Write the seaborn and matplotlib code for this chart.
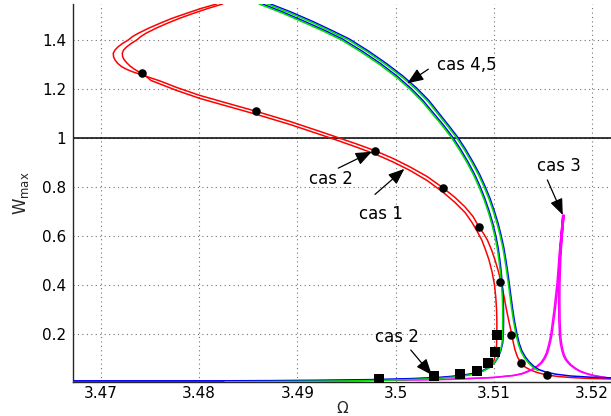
import numpy as np
import pandas as pd
import matplotlib
matplotlib.use("Agg")
import matplotlib.pyplot as plt
import matplotlib.transforms as mtransforms
import seaborn as sns

# ---------------- data ----------------
# cas 1 / cas 2 : red curves
red1_x = [3.48178, 3.48018, 3.47873, 3.47728, 3.47601, 3.47484, 3.47380, 3.47321, 3.47278,
          3.47219, 3.47176, 3.47143, 3.47125, 3.47128, 3.47143, 3.47171, 3.47211, 3.47260,
          3.47313, 3.47367, 3.47421, 3.47509, 3.47601, 3.47771, 3.48008, 3.48314, 3.48578,
          3.48925, 3.49230, 3.49416, 3.49597, 3.49790, 3.49974, 3.50147, 3.50320, 3.50480,
          3.50605, 3.50707, 3.50788, 3.50849, 3.50895, 3.50934, 3.50977, 3.51012, 3.51048,
          3.51080, 3.51106, 3.51129, 3.51155, 3.51182, 3.51199, 3.51216, 3.51241, 3.51277,
          3.51318, 3.51369, 3.51440, 3.51539, 3.51654, 3.51776, 3.51980, 3.52193]
red1_y = [1.5482, 1.5298, 1.5102, 1.4902, 1.4694, 1.4490, 1.4286, 1.4151, 1.4012,
          1.3869, 1.3739, 1.3604, 1.3469, 1.3327, 1.3196, 1.3053, 1.2922, 1.2816,
          1.2727, 1.2653, 1.2584, 1.2461, 1.2339, 1.2073, 1.1747, 1.1400, 1.1102,
          1.0686, 1.0278, 1.0024, 0.9776, 0.9494, 0.9176, 0.8829, 0.8441, 0.7984,
          0.7584, 0.7196, 0.6808, 0.6380, 0.6114, 0.5849, 0.5441, 0.5033, 0.4543,
          0.4012, 0.3502, 0.2992, 0.2502, 0.2000, 0.1645, 0.1359, 0.1073, 0.0816,
          0.0665, 0.0551, 0.0441, 0.0339, 0.0278, 0.0237, 0.0196, 0.0176]

red2_x = [3.48239, 3.48079, 3.47937, 3.47799, 3.47675, 3.47560, 3.47458, 3.47405, 3.47364,
          3.47306, 3.47263, 3.47230, 3.47217, 3.47220, 3.47234, 3.47262, 3.47295, 3.47336,
          3.47382, 3.47428, 3.47509, 3.47601, 3.47771, 3.48008, 3.48314, 3.48578, 3.48925,
          3.49230, 3.49416, 3.49597, 3.49790, 3.49974, 3.50147, 3.50320, 3.50480, 3.50605,
          3.50707, 3.50778, 3.50834, 3.50877, 3.50916, 3.50951, 3.50982, 3.51007, 3.51020,
          3.51028, 3.51031, 3.51030, 3.51028, 3.51018, 3.51002, 3.50977, 3.50941, 3.50890,
          3.50819, 3.50717, 3.50574, 3.50401, 3.50147, 3.49841, 3.49434, 3.48925, 3.48314,
          3.47499, 3.46715]
red2_y = [1.5482, 1.5286, 1.5094, 1.4894, 1.4694, 1.4490, 1.4286, 1.4151, 1.4012,
          1.3865, 1.3735, 1.3604, 1.3469, 1.3339, 1.3216, 1.3082, 1.2951, 1.2829,
          1.2718, 1.2624, 1.2359, 1.2216, 1.1951, 1.1624, 1.1278, 1.0980, 1.0563,
          1.0155, 0.9902, 0.9645, 0.9359, 0.9033, 0.8686, 0.8278, 0.7808, 0.7380,
          0.6971, 0.6563, 0.6176, 0.5849, 0.5441, 0.5033, 0.4543, 0.4012, 0.3502,
          0.2992, 0.2502, 0.2000, 0.1563, 0.1196, 0.0951, 0.0767, 0.0624, 0.0502,
          0.0408, 0.0327, 0.0265, 0.0216, 0.0167, 0.0127, 0.0094, 0.0069, 0.0061,
          0.0061, 0.0061]

# cas 4,5 : green curves (each with a blue companion)
green1_x = [3.48609, 3.48843, 3.49077, 3.49271, 3.49449, 3.49648, 3.49841, 3.50004, 3.50147,
            3.50270, 3.50374, 3.50478, 3.50569, 3.50651, 3.50728, 3.50794, 3.50851, 3.50900,
            3.50943, 3.50980, 3.51010, 3.51035, 3.51053, 3.51067, 3.51078, 3.51087, 3.51090,
            3.51091, 3.51089, 3.51082, 3.51063, 3.51038, 3.51002, 3.50951, 3.50880, 3.50778,
            3.50656, 3.50452, 3.50147, 3.49740, 3.49230, 3.48721, 3.48263]
green1_y = [1.5482, 1.5114, 1.4706, 1.4359, 1.4012, 1.3522, 1.3000, 1.2502, 1.2000,
            1.1502, 1.1000, 1.0502, 1.0024, 0.9522, 0.9000, 0.8502, 0.8000, 0.7502,
            0.7000, 0.6502, 0.6012, 0.5502, 0.5000, 0.4502, 0.4000, 0.3502, 0.3000,
            0.2502, 0.2000, 0.1604, 0.1290, 0.1033, 0.0808, 0.0624, 0.0482, 0.0359,
            0.0278, 0.0204, 0.0151, 0.0110, 0.0086, 0.0069, 0.0061]

green2_x = [3.48690, 3.48925, 3.49159, 3.49342, 3.49520, 3.49714, 3.49902, 3.50065, 3.50208,
            3.50330, 3.50429, 3.50528, 3.50620, 3.50702, 3.50778, 3.50845, 3.50902, 3.50953,
            3.50996, 3.51034, 3.51065, 3.51093, 3.51114, 3.51133, 3.51150, 3.51166, 3.51183,
            3.51202, 3.51226, 3.51249, 3.51277, 3.51313, 3.51353, 3.51399, 3.51450]
green2_y = [1.5482, 1.5114, 1.4706, 1.4359, 1.4012, 1.3522, 1.3000, 1.2502, 1.2000,
            1.1502, 1.1000, 1.0502, 1.0024, 0.9522, 0.9000, 0.8502, 0.8000, 0.7502,
            0.7000, 0.6502, 0.6012, 0.5502, 0.5000, 0.4502, 0.4000, 0.3502, 0.3000,
            0.2502, 0.2000, 0.1604, 0.1290, 0.1033, 0.0829, 0.0653, 0.0518]

blue1_x = green1_x + [3.47499, 3.46715]
blue1_y = green1_y + [0.0061, 0.0061]
blue2_x = green2_x + [3.51521, 3.51623, 3.51776, 3.51980, 3.52193]
blue2_y = green2_y + [0.0420, 0.0331, 0.0257, 0.0208, 0.0180]

# cas 3 : magenta curve
mag_x = [3.46715, 3.48008, 3.49026, 3.50045, 3.50554, 3.50992, 3.51196, 3.51280, 3.51338,
         3.51392, 3.51440, 3.51480, 3.51511, 3.51535, 3.51552, 3.51568, 3.51582, 3.51613,
         3.51643, 3.51669, 3.51689, 3.51702, 3.51687, 3.51671, 3.51661, 3.51660, 3.51662,
         3.51669, 3.51678, 3.51691, 3.51706, 3.51725, 3.51750, 3.51776, 3.51825, 3.51878,
         3.51950, 3.52031, 3.52193]
mag_y = [0.0061, 0.0070, 0.0094, 0.0135, 0.0163, 0.0237, 0.0320, 0.0390, 0.0480,
         0.0580, 0.0706, 0.0850, 0.1030, 0.1240, 0.1480, 0.1750, 0.2050, 0.2990,
         0.4080, 0.5440, 0.6260, 0.6870, 0.6180, 0.5240, 0.4080, 0.3300, 0.2580,
         0.1930, 0.1620, 0.1360, 0.1150, 0.0990, 0.0860, 0.0747, 0.0600, 0.0480,
         0.0380, 0.0300, 0.0196]

# markers
circ_x = [3.47421, 3.48578, 3.49790, 3.50480, 3.50849, 3.51066, 3.51172, 3.51277, 3.51539]
circ_y = [1.265, 1.110, 0.949, 0.798, 0.638, 0.415, 0.197, 0.082, 0.034]
sq_x = [3.49834, 3.50390, 3.50656, 3.50830, 3.50940, 3.51012, 3.51036]
sq_y = [0.016, 0.028, 0.038, 0.051, 0.082, 0.129, 0.198]

x_ticks = [3.47, 3.48, 3.49, 3.50, 3.51, 3.52]
x_tick_labels = ["3.47", "3.48", "3.49", "3.5", "3.51", "3.52"]
y_ticks = [0.2, 0.4, 0.6, 0.8, 1.0, 1.2, 1.4]
y_tick_labels = ["0.2", "0.4", "0.6", "0.8", "1", "1.2", "1.4"]

# annotations
ann_texts = ["cas 4,5", "cas 3", "cas 2", "cas 1", "cas 2"]
ann_text_x = [3.50422, 3.51443, 3.49121, 3.49630, 3.49790]
ann_text_y = [1.299, 0.887, 0.833, 0.691, 0.190]
ann_tail_x = [3.50333, 3.51545, 3.49416, 3.49790, 3.50154]
ann_tail_y = [1.282, 0.830, 0.878, 0.771, 0.136]
ann_head_x = [3.50119, 3.51702, 3.49757, 3.50089, 3.50368]
ann_head_y = [1.2245, 0.687, 0.945, 0.875, 0.034]

# ---------------- style ----------------
sns.set_style("white")
plt.rcParams["font.family"] = ["DejaVu Sans"]
plt.rcParams["mathtext.fontset"] = "dejavusans"

fig = plt.figure(figsize=(6.11, 4.16), dpi=100)
W, H = 611.0, 416.0
ax = fig.add_axes([73 / W, 1 - 382 / H, (611 - 73) / W, (382 - 4) / H])

ax.set_xlim(3.46715, 3.52193)
ax.set_ylim(0.0053, 1.548)

ax.set_xticks(x_ticks)
ax.set_xticklabels(x_tick_labels)
ax.set_yticks(y_ticks)
ax.set_yticklabels(y_tick_labels)
ax.grid(True, linestyle=(0, (1, 3)), color="0.45", linewidth=0.8)
ax.set_axisbelow(True)
ax.tick_params(axis="both", direction="in", length=4, width=0.8, labelsize=11,
               top=False, right=False, colors="k")
ax.tick_params(axis="x", pad=3)
ax.tick_params(axis="y", pad=5)
for s in ["top", "right"]:
    ax.spines[s].set_visible(False)
for s in ["left", "bottom"]:
    ax.spines[s].set_color("0.15")
    ax.spines[s].set_linewidth(1.0)

ax.axhline(1.0, color="k", lw=1.1, zorder=2)

lw = 1.1
common = dict(sort=False, estimator=None, lw=lw, ax=ax)
sns.lineplot(x=red1_x, y=red1_y, color="#ff0000", zorder=3, **common)
sns.lineplot(x=red2_x, y=red2_y, color="#ff0000", zorder=3, **common)

mag_off = mtransforms.offset_copy(ax.transData, fig=fig, x=1.2, y=0, units="dots")
sns.lineplot(x=mag_x, y=mag_y, color="#ff00ff", zorder=3, **common)
sns.lineplot(x=mag_x, y=mag_y, color="#ff00ff", zorder=3, transform=mag_off, **common)

blue_off = mtransforms.offset_copy(ax.transData, fig=fig, x=0.8, y=1.0, units="dots")
sns.lineplot(x=blue1_x, y=blue1_y, color="#0000ff", zorder=4, transform=blue_off, **common)
sns.lineplot(x=blue2_x, y=blue2_y, color="#0000ff", zorder=4, transform=blue_off, **common)
sns.lineplot(x=green1_x, y=green1_y, color="#00dd00", zorder=5, **common)
sns.lineplot(x=green2_x, y=green2_y, color="#00dd00", zorder=5, **common)

sns.scatterplot(x=circ_x, y=circ_y, color="k", marker="o", s=38, linewidth=0, ax=ax, zorder=6)
sns.scatterplot(x=sq_x, y=sq_y, color="k", marker="s", s=44, linewidth=0, ax=ax, zorder=6)

for t, tx, ty, ax0, ay0, hx, hy in zip(ann_texts, ann_text_x, ann_text_y, ann_tail_x, ann_tail_y,
                                       ann_head_x, ann_head_y):
    ax.text(tx, ty, t, fontsize=12, ha="left", va="center", color="k", zorder=7)
    ax.annotate("", xy=(hx, hy), xytext=(ax0, ay0),
                arrowprops=dict(arrowstyle="-|>,head_length=0.7,head_width=0.28",
                                color="k", lw=0.9, shrinkA=0, shrinkB=0, mutation_scale=14),
                zorder=7)

ax.set_xlabel("Ω", fontsize=11)
ax.xaxis.set_label_coords(0.5, -0.050)
ax.set_ylabel(r"W$_{\rm max}$", fontsize=12, labelpad=8)

fig.savefig("out.png", dpi=100)
